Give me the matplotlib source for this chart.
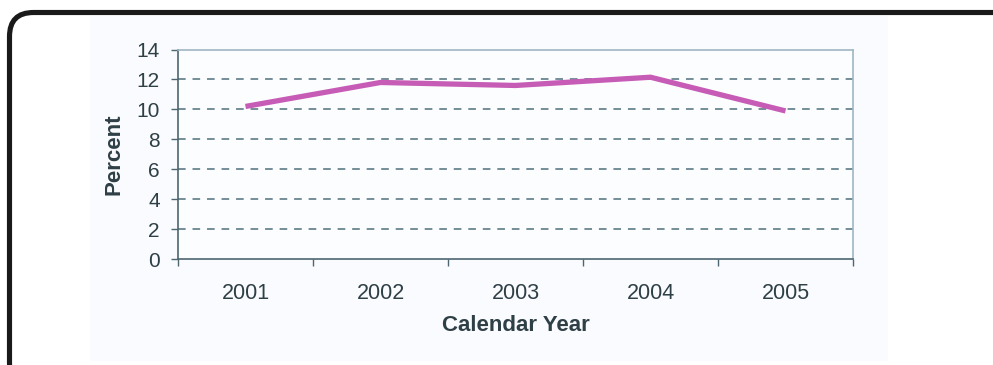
import matplotlib.pyplot as plt
import numpy as np
from matplotlib.patches import FancyBboxPatch, Rectangle
from matplotlib.transforms import IdentityTransform

plt.rcParams['font.family'] = ['Liberation Sans', 'DejaVu Sans']

# yearly percentages
years = ['2001', '2002', '2003', '2004', '2005']
percent = [10.2, 11.8, 11.6, 12.15, 9.9]
yticks = [0, 2, 4, 6, 8, 10, 12, 14]

txt = '#2e3f46'
axcol = '#4d6670'

fig = plt.figure(figsize=(9.93, 3.65), dpi=100)
W, H = 993, 365

# light panel behind the chart
fig.patches.append(Rectangle((90 / W, 4 / H), 798 / W, 345 / H,
                             transform=fig.transFigure, facecolor='#fafbfe',
                             edgecolor='none', zorder=-5))
# rounded black frame in pixels, runs off the right and bottom
fig.patches.append(FancyBboxPatch((9.5, -22), 1040, 374.5,
                                  boxstyle='round,pad=0,rounding_size=24',
                                  transform=IdentityTransform(), facecolor='none',
                                  edgecolor='#1a1a1a', linewidth=3.7, zorder=1))

ax = fig.add_axes([178 / W, 1 - 259.3 / H, 675 / W, 209.8 / H])
ax.set_facecolor('#fcfdff')

x = np.arange(len(years))
ax.plot(x, percent, color='#c65cb5', linewidth=3.8, solid_capstyle='butt', zorder=3)

ax.set_xlim(-0.5, len(years) - 0.5)
ax.set_ylim(0, 14)

for v in yticks[1:-1]:
    ax.axhline(v, color='#4f6f7a', linewidth=1.1, linestyle=(0, (5, 4.5)), zorder=2)

ax.set_yticks(yticks)
ax.set_yticklabels([str(v) for v in yticks], fontsize=15, color=txt)
ax.tick_params(axis='y', direction='out', length=5, width=1, color=axcol, pad=8)

# tick marks between categories, labels under the centres
ax.set_xticks(np.arange(-0.5, len(years), 1.0))
ax.set_xticklabels([])
ax.set_xticks(x, minor=True)
ax.set_xticklabels(years, minor=True, fontsize=15.5, color=txt)
ax.tick_params(axis='x', which='major', direction='out', length=5, width=1, color=axcol)
ax.tick_params(axis='x', which='minor', length=0, pad=17)

ax.spines['left'].set_color(axcol)
ax.spines['bottom'].set_color(axcol)
ax.spines['top'].set_color('#9fb6c4')
ax.spines['right'].set_color('#9fb6c4')
for s in ax.spines.values():
    s.set_linewidth(1.2)

ax.set_ylabel('Percent', fontsize=16, fontweight='bold', color=txt, labelpad=9)
ax.set_xlabel('Calendar Year', fontsize=16, fontweight='bold', color=txt, labelpad=8)

plt.savefig('out.png', dpi=100)
